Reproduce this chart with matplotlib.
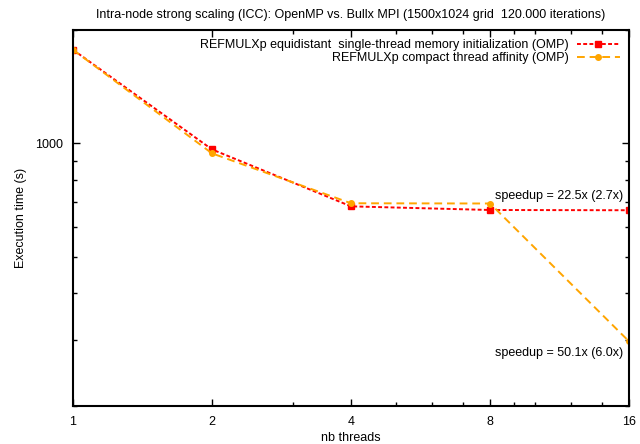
import matplotlib
matplotlib.use("Agg")
import matplotlib.pyplot as plt
from matplotlib.ticker import FixedLocator, NullFormatter, FixedFormatter

plt.rcParams['font.family'] = ['Liberation Sans', 'DejaVu Sans']

# data
threads = [1, 2, 4, 8, 16]
time_equidistant = [1776, 964, 680, 665, 664]
time_compact = [1776, 941, 693, 692, 297]

label_equi = "REFMULXp equidistant  single-thread memory initialization (OMP)"
label_comp = "REFMULXp compact thread affinity (OMP)"
title = "Intra-node strong scaling (ICC): OpenMP vs. Bullx MPI (1500x1024 grid  120.000 iterations)"

x_major = [1, 2, 4, 8, 16]
x_minor = [3, 5, 6, 7, 9, 10, 12, 14]
y_major = [1000]
y_minor = [200, 300, 400, 500, 600, 700, 800, 900, 2000]

fig = plt.figure(figsize=(6.4, 4.44), dpi=100)
ax = fig.add_axes([0.114, 0.0856, 0.869, 0.846])

ax.plot(threads, time_equidistant, color='red', linestyle=(0, (2, 1.2)), lw=1.4,
        marker='s', markersize=4.5, label=label_equi)
ax.plot(threads, time_compact, color='orange', linestyle=(0, (4, 2.5)), lw=1.4,
        marker='o', markersize=4, label=label_comp)

ax.set_xscale('log', base=2)
ax.set_yscale('log')
ax.set_xlim(1, 16)
ax.set_ylim(200, 2000)

ax.xaxis.set_major_locator(FixedLocator(x_major))
ax.xaxis.set_major_formatter(FixedFormatter([str(v) for v in x_major]))
ax.xaxis.set_minor_locator(FixedLocator(x_minor))
ax.xaxis.set_minor_formatter(NullFormatter())
ax.yaxis.set_major_locator(FixedLocator(y_major))
ax.yaxis.set_major_formatter(FixedFormatter([str(v) for v in y_major]))
ax.yaxis.set_minor_locator(FixedLocator(y_minor))
ax.yaxis.set_minor_formatter(NullFormatter())

ax.tick_params(which='both', direction='in', top=True, right=True, labelsize=9, width=1)
ax.tick_params(which='major', length=5, pad=7)
ax.tick_params(which='minor', length=3)
for s in ax.spines.values():
    s.set_linewidth(1.5)

ax.set_xlabel("nb threads", fontsize=9, labelpad=3)
ax.set_ylabel("Execution time (s)", fontsize=9, labelpad=6)
ax.set_title(title, fontsize=9, pad=9)

ax.text(8.2, 723, "speedup = 22.5x (2.7x)", fontsize=9, va='center', ha='left')
ax.text(8.2, 277, "speedup = 50.1x (6.0x)", fontsize=9, va='center', ha='left')

ax.legend(loc='upper right', frameon=False, markerfirst=False, fontsize=9,
          handlelength=3.5, numpoints=1, borderaxespad=0.3, labelspacing=0.1,
          handletextpad=0.6)

fig.savefig("out.png", dpi=100)
